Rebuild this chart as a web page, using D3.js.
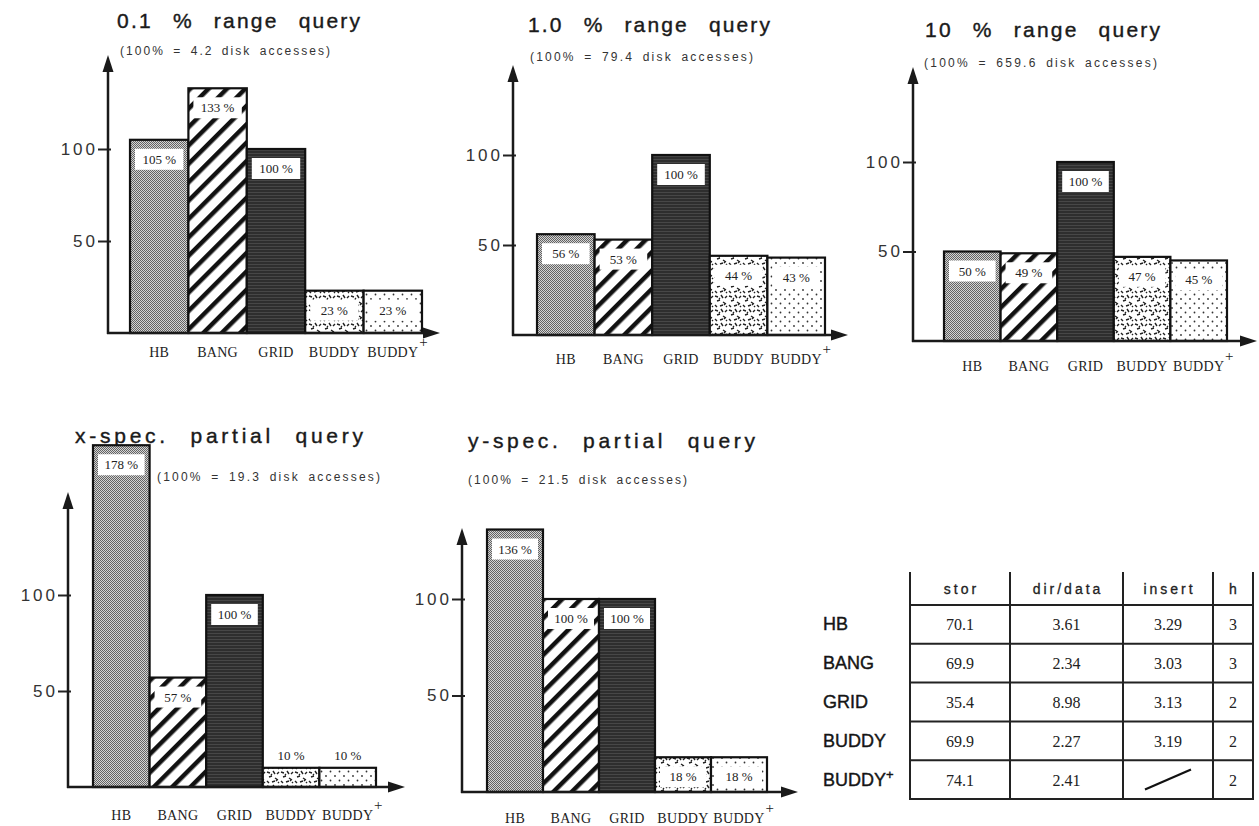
<!DOCTYPE html>
<html>
<head>
<meta charset="utf-8">
<script src="https://cdn.jsdelivr.net/npm/d3@7"></script>
<style>
body { margin: 0; background: #fff; }
svg { display: block; }
</style>
</head>
<body>
<div id="chart"></div>
<script>
// ---- data ----
const categories = ["HB", "BANG", "GRID", "BUDDY", "BUDDY+"];
const panelTitles = ["0.1 % range query", "1.0 % range query", "10 % range query",
                     "x-spec. partial query", "y-spec. partial query"];
const panelNotes = ["(100% = 4.2 disk accesses)", "(100% = 79.4 disk accesses)",
                    "(100% = 659.6 disk accesses)", "(100% = 19.3 disk accesses)",
                    "(100% = 21.5 disk accesses)"];
const range01 = [105, 133, 100, 23, 23];
const range1 = [56, 53, 100, 44, 43];
const range10 = [50, 49, 100, 47, 45];
const xPartial = [178, 57, 100, 10, 10];
const yPartial = [136, 100, 100, 18, 18];
const yTicks = [50, 100];

const tableColumns = ["stor", "dir/data", "insert", "h"];
const tableStor = [70.1, 69.9, 35.4, 69.9, 74.1];
const tableDirData = [3.61, 2.34, 8.98, 2.27, 2.41];
const tableInsert = [3.29, 3.03, 3.13, 3.19, null];
const tableH = [3, 3, 2, 2, 2];

// ---- layout (pixel positions of each small chart) ----
const layout = [
    {x0: 108, y0: 333, y100: 149, bx0: 130, bx1: 422, top: 55,  right: 440, labelY: 357,
     title: [117, 28, 243], note: [120, 55, 210]},
    {x0: 513, y0: 335, y100: 155, bx0: 537, bx1: 825, top: 65,  right: 848, labelY: 364,
     title: [528, 32, 242], note: [530, 61, 223]},
    {x0: 913, y0: 341, y100: 162, bx0: 944, bx1: 1227, top: 67, right: 1257, labelY: 371,
     title: [925, 37, 235], note: [924, 67, 233]},
    {x0: 68, y0: 787, y100: 595, bx0: 93, bx1: 376, top: 492, right: 405, labelY: 820,
     title: [75, 443, 288], note: [157, 481, 223]},
    {x0: 462, y0: 792, y100: 599, bx0: 487, bx1: 767, top: 528, right: 798, labelY: 823,
     title: [468, 448, 287], note: [468, 484, 219]}
];
const panelValues = [range01, range1, range10, xPartial, yPartial];

const svg = d3.select("#chart").append("svg")
    .attr("width", 1259)
    .attr("height", 826)
    .style("background", "#fff");

// ---- fill patterns, one per structure ----
const defs = svg.append("defs");

let pHB = defs.append("pattern").attr("id", "patHB")
    .attr("patternUnits", "userSpaceOnUse").attr("width", 2).attr("height", 2);
pHB.append("rect").attr("width", 2).attr("height", 2).attr("fill", "#d4d4d4");
pHB.append("rect").attr("width", 1).attr("height", 1).attr("fill", "#636363");
pHB.append("rect").attr("x", 1).attr("y", 1).attr("width", 1).attr("height", 1).attr("fill", "#636363");

let pBANG = defs.append("pattern").attr("id", "patBANG")
    .attr("patternUnits", "userSpaceOnUse").attr("width", 13).attr("height", 13)
    .attr("patternTransform", "rotate(45)");
pBANG.append("rect").attr("width", 13).attr("height", 13).attr("fill", "#fff");
pBANG.append("rect").attr("width", 4.5).attr("height", 13).attr("fill", "#111");

let pGRID = defs.append("pattern").attr("id", "patGRID")
    .attr("patternUnits", "userSpaceOnUse").attr("width", 4).attr("height", 3);
pGRID.append("rect").attr("width", 4).attr("height", 3).attr("fill", "#2e2e2e");
pGRID.append("rect").attr("width", 4).attr("height", 1).attr("fill", "#474747");

let pBUDDY = defs.append("pattern").attr("id", "patBUDDY")
    .attr("patternUnits", "userSpaceOnUse").attr("width", 14).attr("height", 14);
pBUDDY.append("rect").attr("width", 14).attr("height", 14).attr("fill", "#fff");
pBUDDY.append("path")
    .attr("d", "M1 2 l3 1 M7 1 l2 3 M11 4 l2 -2 M3 7 l3 -1 M9 8 l3 2 M1 11 l2 2 M6 12 l3 -1 M12 12 l1 1 M5 4 l1 1 M10 11 l1 -1")
    .attr("stroke", "#222").attr("stroke-width", 1.4).attr("fill", "none");

let pPLUS = defs.append("pattern").attr("id", "patPLUS")
    .attr("patternUnits", "userSpaceOnUse").attr("width", 9).attr("height", 9);
pPLUS.append("rect").attr("width", 9).attr("height", 9).attr("fill", "#fff");
pPLUS.append("circle").attr("cx", 2).attr("cy", 2).attr("r", 0.9).attr("fill", "#333");
pPLUS.append("circle").attr("cx", 6.5).attr("cy", 6.5).attr("r", 0.9).attr("fill", "#333");

const fills = ["url(#patHB)", "url(#patBANG)", "url(#patGRID)", "url(#patBUDDY)", "url(#patPLUS)"];

// ---- one small bar chart ----
function drawPanel(values, title, note, L) {
    let y = d3.scaleLinear().domain([0, 100]).range([L.y0, L.y100]);
    let x = d3.scaleBand().domain(categories).range([L.bx0, L.bx1]);
    let bw = x.bandwidth();
    let g = svg.append("g");

    g.append("text")
        .text(title)
        .attr("x", L.title[0]).attr("y", L.title[1])
        .attr("textLength", L.title[2]).attr("lengthAdjust", "spacing")
        .style("font-family", "'Liberation Sans', Arial, sans-serif")
        .style("font-size", "21px")
        .style("word-spacing", "12px")
        .style("fill", "#1a1a1a")
        .style("stroke", "#1a1a1a")
        .style("stroke-width", "0.4px");

    g.append("text")
        .text(note)
        .attr("x", L.note[0]).attr("y", L.note[1])
        .attr("textLength", L.note[2]).attr("lengthAdjust", "spacing")
        .style("font-family", "'Liberation Sans', Arial, sans-serif")
        .style("font-size", "12px")
        .style("word-spacing", "3px")
        .style("fill", "#333");

    // bars
    g.selectAll(".bar").data(values).join("rect")
        .attr("class", "bar")
        .attr("x", (d, i) => x(categories[i]))
        .attr("y", d => y(d))
        .attr("width", bw)
        .attr("height", d => y(0) - y(d))
        .attr("fill", (d, i) => fills[i])
        .attr("stroke", "#111")
        .attr("stroke-width", 2.2);

    // value labels
    values.forEach((d, i) => {
        let cx = x(categories[i]) + bw / 2;
        let h = y(0) - y(d);
        if (h > 26) {
            g.append("rect")
                .attr("x", x(categories[i]) + 5)
                .attr("y", y(d) + 9)
                .attr("width", bw - 10)
                .attr("height", 21)
                .attr("fill", "#fff");
            g.append("text")
                .text(d + " %")
                .attr("x", cx).attr("y", y(d) + 24)
                .attr("text-anchor", "middle")
                .style("font-family", "'Liberation Serif', 'Times New Roman', serif")
                .style("font-size", "13px")
                .style("fill", "#222");
        } else {
            g.append("text")
                .text(d + " %")
                .attr("x", cx).attr("y", y(d) - 8)
                .attr("text-anchor", "middle")
                .style("font-family", "'Liberation Serif', 'Times New Roman', serif")
                .style("font-size", "13px")
                .style("fill", "#222");
        }
    });

    // y axis ticks
    let yAx = g.append("g")
        .attr("transform", "translate(" + L.x0 + ",0)")
        .call(d3.axisLeft(y).tickValues(yTicks).tickSize(10).tickPadding(0).tickSizeOuter(0));
    yAx.select(".domain").remove();
    yAx.selectAll(".tick line").attr("stroke", "#222").attr("stroke-width", 2).attr("x2", 3).attr("x1", -10);
    yAx.selectAll(".tick text")
        .style("font-family", "'Liberation Sans', Arial, sans-serif")
        .style("font-size", "17px")
        .style("letter-spacing", "3px")
        .style("fill", "#333");

    // axis lines with arrow heads
    g.append("line")
        .attr("x1", L.x0).attr("y1", L.y0 + 1)
        .attr("x2", L.x0).attr("y2", L.top + 12)
        .attr("stroke", "#1a1a1a").attr("stroke-width", 2.5);
    g.append("path")
        .attr("d", "M" + L.x0 + "," + L.top + "L" + (L.x0 - 5.5) + "," + (L.top + 17) + "L" + (L.x0 + 5.5) + "," + (L.top + 17) + "Z")
        .attr("fill", "#1a1a1a");
    g.append("line")
        .attr("x1", L.x0 - 1).attr("y1", L.y0)
        .attr("x2", L.right - 12).attr("y2", L.y0)
        .attr("stroke", "#1a1a1a").attr("stroke-width", 2.5);
    g.append("path")
        .attr("d", "M" + L.right + "," + L.y0 + "L" + (L.right - 17) + "," + (L.y0 - 5.5) + "L" + (L.right - 17) + "," + (L.y0 + 5.5) + "Z")
        .attr("fill", "#1a1a1a");

    // category labels
    categories.forEach(c => {
        let plus = c.endsWith("+");
        let t = g.append("text")
            .text(plus ? c.slice(0, -1) : c)
            .attr("x", x(c) + bw / 2).attr("y", L.labelY)
            .attr("text-anchor", "middle")
            .style("font-family", "'Liberation Serif', 'Times New Roman', serif")
            .style("font-size", "14px")
            .style("letter-spacing", "0.3px")
            .style("fill", "#222");
        if (plus) {
            let w = t.node().getComputedTextLength();
            g.append("text")
                .text("+")
                .attr("x", x(c) + bw / 2 + w / 2 + 5).attr("y", L.labelY - 10)
                .attr("text-anchor", "middle")
                .style("font-family", "'Liberation Serif', 'Times New Roman', serif")
                .style("font-size", "15px")
                .style("fill", "#222");
        }
    });
}

panelValues.forEach((v, i) => drawPanel(v, panelTitles[i], panelNotes[i], layout[i]));

// ---- summary table ----
const colEdges = [910, 1010, 1123, 1213, 1253];
const tableTop = 572, headBottom = 605, tableBottom = 799;
let rows = d3.scaleBand().domain(categories).range([headBottom, tableBottom]);
let tg = svg.append("g");

colEdges.forEach(cx => {
    tg.append("line")
        .attr("x1", cx).attr("x2", cx)
        .attr("y1", tableTop).attr("y2", tableBottom + 1)
        .attr("stroke", "#222").attr("stroke-width", 2);
});
[headBottom].concat(categories.map(c => rows(c) + rows.bandwidth())).forEach(ry => {
    tg.append("line")
        .attr("x1", colEdges[0]).attr("x2", colEdges[colEdges.length - 1])
        .attr("y1", ry).attr("y2", ry)
        .attr("stroke", "#222").attr("stroke-width", 2);
});

tableColumns.forEach((c, j) => {
    tg.append("text")
        .text(c)
        .attr("x", (colEdges[j] + colEdges[j + 1]) / 2 + 1.5)
        .attr("y", 594)
        .attr("text-anchor", "middle")
        .style("font-family", "'Liberation Sans', Arial, sans-serif")
        .style("font-size", "14px")
        .style("letter-spacing", "3px")
        .style("fill", "#222")
        .style("stroke", "#222")
        .style("stroke-width", "0.3px");
});

const tableCols = [
    tableStor.map(d => d.toFixed(1)),
    tableDirData.map(d => d.toFixed(2)),
    tableInsert.map(d => d === null ? null : d.toFixed(2)),
    tableH.map(d => String(d))
];

categories.forEach((c, i) => {
    let cy = rows(c) + rows.bandwidth() / 2;
    let plus = c.endsWith("+");
    let lab = tg.append("text")
        .attr("x", 823).attr("y", cy + 6)
        .style("font-family", "'Liberation Sans', Arial, sans-serif")
        .style("font-size", "18px")
        .style("fill", "#151515")
        .style("stroke", "#151515")
        .style("stroke-width", "0.4px")
        .text(plus ? c.slice(0, -1) : c);
    if (plus) {
        lab.append("tspan").text("+").attr("dy", -7).style("font-size", "13px");
    }
    tableCols.forEach((col, j) => {
        let mid = (colEdges[j] + colEdges[j + 1]) / 2;
        if (col[i] === null) {
            tg.append("line")
                .attr("x1", mid - 23).attr("y1", cy + 10)
                .attr("x2", mid + 23).attr("y2", cy - 10)
                .attr("stroke", "#111").attr("stroke-width", 2.2);
        } else {
            tg.append("text")
                .text(col[i])
                .attr("x", mid).attr("y", cy + 6)
                .attr("text-anchor", "middle")
                .style("font-family", "'Liberation Serif', 'Times New Roman', serif")
                .style("font-size", "16px")
                .style("fill", "#222");
        }
    });
});
</script>
</body>
</html>
